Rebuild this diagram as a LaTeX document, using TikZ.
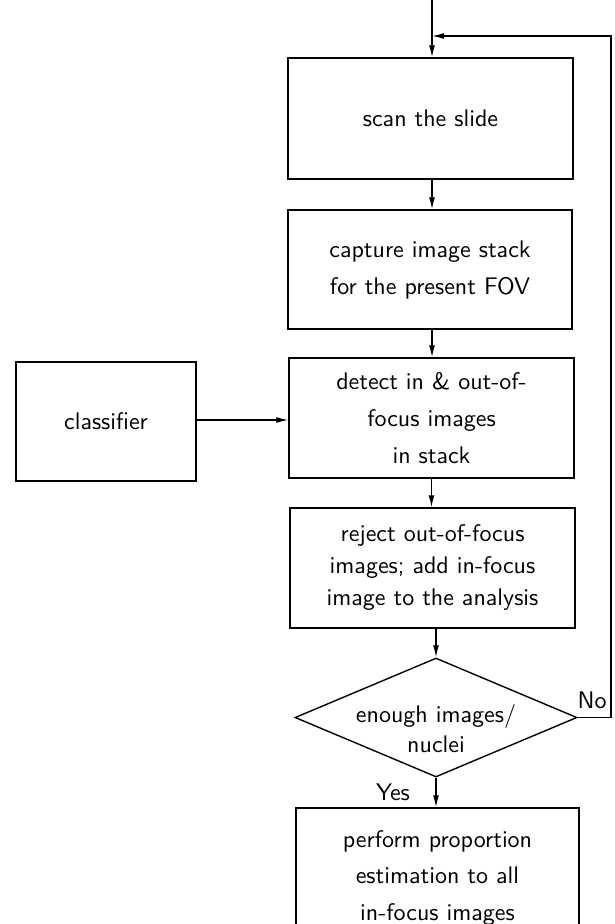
\documentclass[tikz,border=0pt]{standalone}
\usepackage{fontspec}
\setsansfont{lmsans10-regular.otf}
\usetikzlibrary{arrows.meta,shapes.geometric}
\begin{document}
\begin{tikzpicture}[x=1pt,y=-1pt,
  font=\sffamily\fontsize{24}{37}\selectfont,
  box/.style={draw, line width=1.4pt, align=center, inner sep=0pt},
  arr/.style={line width=1.4pt, -{Latex[length=12pt,width=6pt]}},
  ln/.style={line width=1.4pt}]
\useasboundingbox (0,0) rectangle (615,924);
\clip (0,0) rectangle (615,924);
\node[box, minimum width=285pt, minimum height=121pt] (b1) at (430.5,118.5) {scan the slide};
\node[box, minimum width=284pt, minimum height=119pt] (b2) at (430,269.5) {capture image stack\\ for the present FOV};
\node[box, minimum width=285pt, minimum height=120pt] (b3) at (431.5,418) {detect in \& out-of-\\focus images\\in stack};
\node[box, minimum width=285pt, minimum height=120pt, font=\sffamily\fontsize{24}{32}\selectfont] (b4) at (432.5,568) {reject out-of-focus\\images; add in-focus\\image to the analysis};
\node[draw, diamond, line width=1.4pt, minimum width=282pt, minimum height=119pt, inner sep=0pt] (dec) at (436,717.5) {};
\node[align=center, font=\sffamily\fontsize{24}{30}\selectfont] (dectext) at (436,729) {enough images/\\nuclei};
\node[box, minimum width=283pt, minimum height=139pt, font=\sffamily\fontsize{24}{36.5}\selectfont] (b5) at (437.5,877.5) {perform proportion\\estimation to all\\in-focus images};
\node[box, minimum width=180pt, minimum height=119pt] (cls) at (106,421.5) {classifier};
\node[anchor=base, inner sep=0pt] (no) at (592,708) {No};
\node[anchor=base, inner sep=0pt] (yes) at (393,800) {Yes};
\coordinate (top) at (432,0);
\coordinate (fb) at (432,36);
\coordinate (rt) at (611,0);
\draw[arr] (top) -- (top |- b1.north);
\draw[arr] (b1.south -| top) -- (b2.north -| top);
\draw[arr] (b2.south -| top) -- (b3.north -| top);
\draw[arr] (b3.south) -- (b3.south |- b4.north);
\draw[arr] (b4.south -| dec.north) -- (dec.north);
\draw[arr] (dec.south) -- (dec.south |- b5.north);
\draw[arr] (cls.east |- 0,420) -- (b3.west |- 0,420);
\draw[arr] (dec.east) -- (dec.east -| rt) |- (fb);
\end{tikzpicture}
\end{document}
